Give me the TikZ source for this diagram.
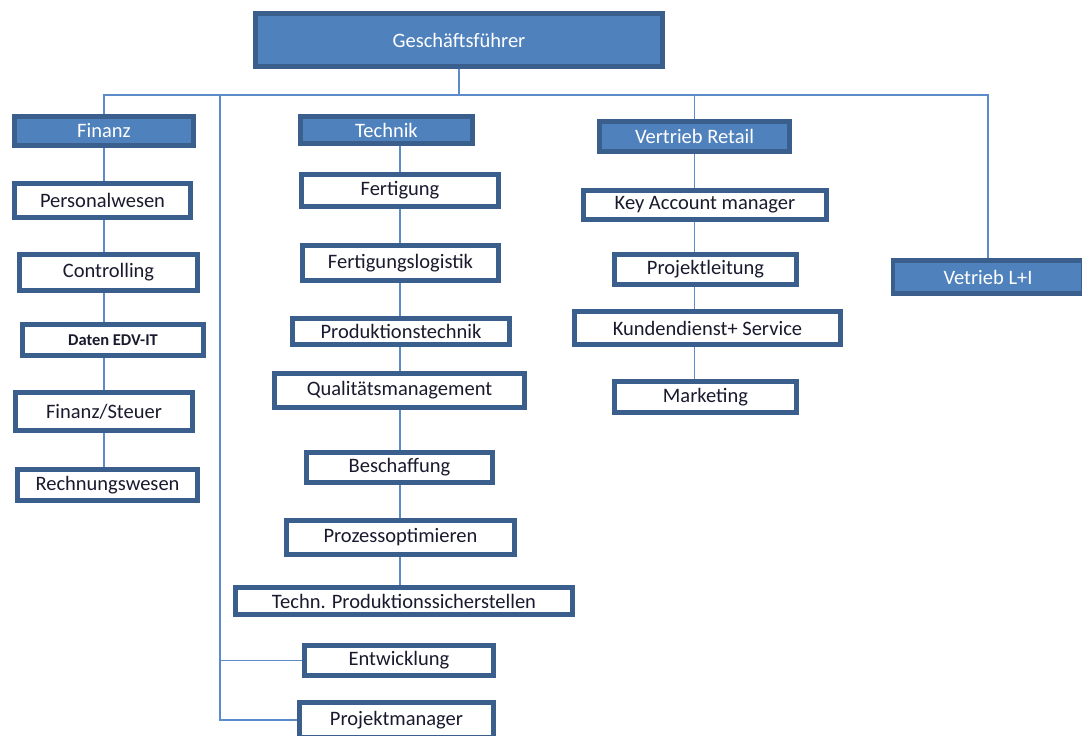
\documentclass[tikz,border=0pt]{standalone}
\usepackage{fontspec}
\setmainfont{Carlito}
\usepackage{xcolor}
\usepackage{tikz}
\usetikzlibrary{positioning, backgrounds}

\definecolor{orgblue}{HTML}{4F81BD}
\definecolor{orgedge}{HTML}{3A5F8C}
\definecolor{orgline}{HTML}{5B8BC8}
\definecolor{orgtext}{HTML}{1A1A2E}

\begin{document}
\begin{tikzpicture}[
  x=1pt, y=-1pt,
  box/.style={draw=orgedge, line width=4.5pt, fill=white, text=orgtext, inner sep=0pt, align=center, font=\fontsize{20.5}{24}\selectfont},
  head/.style={box, fill=orgblue, text=white},
  link/.style={draw=orgline, line width=1.8pt}
]
  \useasboundingbox (0,0) rectangle (1082,736);

  % Geschaeftsfuehrung
  \node[head, minimum width=407pt, minimum height=53pt] (gf) at (459,40) {Geschäftsführer};
  \coordinate (bus) at (459,95);
  \coordinate (spine) at (220,95);

  % Finanz
  \node[head, minimum width=179pt, minimum height=29pt] (finanz) at (104,131) {Finanz};
  \node[box, minimum width=176pt, minimum height=34pt] (personal) at (102.5,200.5) {Personalwesen};
  \node[box, minimum width=178pt, minimum height=36pt] (control) at (108.5,272.5) {Controlling};
  \node[box, minimum width=181pt, minimum height=31pt, font=\fontsize{16.5}{20}\selectfont\bfseries] (edv) at (113,340) {Daten EDV-IT};
  \node[box, minimum width=177pt, minimum height=38pt] (steuer) at (104,411.5) {Finanz/Steuer};
  \node[box, minimum width=180pt, minimum height=31pt] (rechnung) at (107.5,485) {Rechnungswesen};

  % Technik
  \node[head, minimum width=172pt, minimum height=27pt] (technik) at (386.5,130) {Technik};
  \node[box, minimum width=197pt, minimum height=32pt] (fertig) at (400,190.5) {Fertigung};
  \node[box, minimum width=196pt, minimum height=35pt] (logistik) at (400.5,263) {Fertigungslogistik};
  \node[box, minimum width=217pt, minimum height=26pt] (prodtech) at (401,331.5) {Produktionstechnik};
  \node[box, minimum width=250pt, minimum height=34pt] (quali) at (399.5,390.5) {Qualitätsmanagement};
  \node[box, minimum width=186pt, minimum height=30pt] (beschaff) at (399.5,467.5) {Beschaffung};
  \node[box, minimum width=228pt, minimum height=34pt] (prozess) at (400.5,537.5) {Prozessoptimieren};
  \node[box, minimum width=337pt, minimum height=27pt] (sicher) at (404,601) {Techn. Produktionssicherstellen};
  \node[box, minimum width=189pt, minimum height=30pt] (entw) at (399,660.5) {Entwicklung};
  \node[box, minimum width=194pt, minimum height=35pt] (projman) at (396.5,720) {Projektmanager};

  % Vertrieb
  \node[head, minimum width=190pt, minimum height=30pt] (retail) at (694.5,136.5) {Vertrieb Retail};
  \node[box, minimum width=243pt, minimum height=29pt] (keyacc) at (705,205) {Key Account manager};
  \node[box, minimum width=182pt, minimum height=30pt] (projleit) at (705.5,269.5) {Projektleitung};
  \node[box, minimum width=266pt, minimum height=33pt] (kunden) at (707.5,328) {Kundendienst+ Service};
  \node[box, minimum width=182pt, minimum height=31pt] (marketing) at (705.5,397) {Marketing};
  \node[head, minimum width=190pt, minimum height=33pt] (vli) at (988,277) {Vetrieb L+I};

  \begin{scope}[on background layer]
    \draw[link] (gf.south) -- (bus);
    \draw[link] (finanz.north) -- (finanz.north |- bus) -| (vli.north);
    \draw[link] (retail.north) -- (retail.north |- bus);
    \draw[link] (spine) |- (projman.west);
    \draw[link] (spine |- entw.west) -- (entw.west);
    % Ketten
    \draw[link] (finanz.south) -- (finanz.south |- personal.north);
    \draw[link] (finanz.south |- personal.south) -- (finanz.south |- control.north);
    \draw[link] (finanz.south |- control.south) -- (finanz.south |- edv.north);
    \draw[link] (finanz.south |- edv.south) -- (finanz.south |- steuer.north);
    \draw[link] (finanz.south |- steuer.south) -- (finanz.south |- rechnung.north);
    \draw[link] (fertig.north |- technik.south) -- (fertig.north);
    \draw[link] (fertig.south) -- (logistik.north -| fertig.south);
    \draw[link] (fertig.south |- logistik.south) -- (fertig.south |- prodtech.north);
    \draw[link] (fertig.south |- prodtech.center) -- (fertig.south |- quali.north);
    \draw[link] (fertig.south |- quali.south) -- (fertig.south |- beschaff.north);
    \draw[link] (fertig.south |- beschaff.south) -- (fertig.south |- prozess.north);
    \draw[link] (fertig.south |- prozess.south) -- (fertig.south |- sicher.north);
    \draw[link] (retail.south) -- (retail.south |- keyacc.north);
    \draw[link] (keyacc.south -| retail.south) -- (retail.south |- projleit.north);
    \draw[link] (projleit.south -| retail.south) -- (retail.south |- kunden.north);
    \draw[link] (kunden.south -| retail.south) -- (retail.south |- marketing.north);
  \end{scope}
\end{tikzpicture}
\end{document}
